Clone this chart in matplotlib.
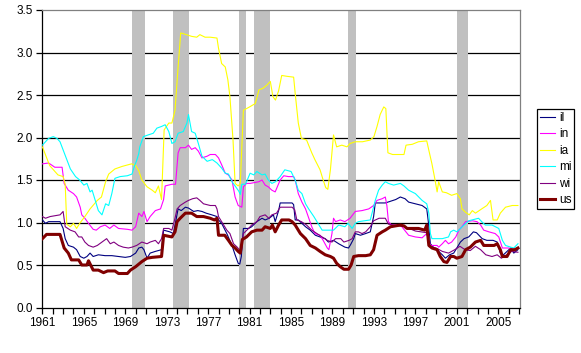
import numpy as np
import matplotlib
matplotlib.use("Agg")
import matplotlib.pyplot as plt

plt.rcParams['font.family'] = ['Liberation Sans', 'DejaVu Sans']

# (year, value) pairs
il = [(1961.0,1.03),(1961.3,0.99),(1961.6,1.01),(1962.7,1.01),(1963.0,0.93),(1963.2,0.81),(1963.5,0.73),
      (1964.0,0.71),(1964.3,0.68),(1964.65,0.60),(1965.0,0.58),(1965.3,0.60),(1965.6,0.64),(1965.9,0.60),
      (1966.4,0.62),(1967.05,0.61),(1967.7,0.61),(1968.35,0.60),(1969.0,0.59),(1969.5,0.60),(1970.0,0.64),
      (1970.3,0.70),(1970.6,0.71),(1970.8,0.68),(1971.1,0.58),(1971.4,0.64),(1971.9,0.66),(1972.5,0.68),
      (1972.7,0.91),(1973.3,0.89),(1973.65,0.87),(1973.8,0.97),(1974.1,1.16),(1974.4,1.14),(1974.8,1.18),
      (1975.1,1.17),(1975.6,1.13),(1976.0,1.14),(1976.4,1.13),(1976.8,1.11),(1977.35,1.09),(1977.85,1.07),
      (1978.0,1.03),(1978.3,0.99),(1978.8,0.87),(1979.3,0.73),(1979.6,0.62),(1979.9,0.52),(1980.05,0.51),
      (1980.2,0.60),(1980.4,0.93),(1980.9,0.93),(1981.2,0.95),(1981.7,1.01),(1982.2,1.05),(1982.5,1.03),
      (1982.9,1.05),(1983.3,1.09),(1983.47,1.01),(1983.8,1.14),(1983.95,1.23),(1985.1,1.23),(1985.25,1.21),
      (1985.4,1.03),(1985.7,1.03),(1986.05,0.99),(1986.4,0.95),(1986.85,0.91),(1987.35,0.85),(1987.8,0.83),
      (1988.3,0.81),(1988.6,0.77),(1989.1,0.79),(1989.6,0.75),(1989.9,0.73),(1990.2,0.71),(1990.55,0.70),
      (1990.75,0.74),(1991.05,0.81),(1991.2,0.87),(1991.7,0.85),(1992.2,0.87),(1992.65,0.89),(1992.97,1.07),
      (1993.13,1.23),(1994.1,1.23),(1994.6,1.25),(1995.1,1.27),(1995.55,1.30),(1996.0,1.28),(1996.35,1.24),
      (1997.0,1.22),(1997.65,1.20),(1998.1,1.16),(1998.25,1.01),(1998.45,0.75),(1998.8,0.70),(1999.25,0.66),
      (1999.6,0.62),(1999.9,0.58),(2000.3,0.62),(2000.7,0.64),(2001.0,0.70),(2001.35,0.77),(2001.7,0.81),
      (2002.15,0.83),(2002.6,0.89),(2002.9,0.88),(2003.45,0.81),(2003.9,0.79),(2004.5,0.79),(2004.9,0.77),
      (2005.2,0.64),(2005.5,0.62),(2005.85,0.66),(2006.2,0.70),(2006.5,0.64),(2006.9,0.68)]

in_ = [(1961.0,1.69),(1961.6,1.70),(1962.2,1.65),(1962.9,1.65),(1963.1,1.46),(1963.5,1.38),(1964.0,1.34),
       (1964.3,1.30),(1964.65,1.18),(1964.8,1.09),(1965.1,1.05),(1965.45,0.99),(1965.9,0.92),(1966.2,0.91),
       (1966.6,0.95),(1967.05,0.97),(1967.5,0.93),(1967.9,0.97),(1968.35,0.93),(1969.2,0.92),(1969.65,0.91),
       (1970.0,0.95),(1970.3,1.11),(1970.6,1.07),(1970.8,1.13),(1971.1,1.01),(1971.4,1.07),(1971.9,1.14),
       (1972.4,1.16),(1972.7,1.27),(1972.85,1.43),(1973.5,1.45),(1973.85,1.45),(1974.1,1.82),(1974.3,1.88),
       (1974.8,1.88),(1975.1,1.91),(1975.4,1.86),(1975.75,1.88),(1976.05,1.84),(1976.4,1.76),(1976.9,1.78),
       (1977.2,1.80),(1977.7,1.80),(1978.0,1.76),(1978.3,1.68),(1978.65,1.58),(1978.95,1.56),(1979.3,1.50),
       (1979.6,1.30),(1979.9,1.20),(1980.25,1.18),(1980.4,1.42),(1980.7,1.46),(1981.05,1.46),(1981.9,1.48),
       (1982.2,1.50),(1982.5,1.44),(1982.8,1.42),(1983.15,1.38),(1983.47,1.36),(1983.95,1.50),(1984.3,1.55),
       (1984.75,1.54),(1985.25,1.54),(1985.4,1.50),(1985.7,1.34),(1986.05,1.24),(1986.4,1.16),(1987.0,0.95),
       (1987.3,0.87),(1987.8,0.85),(1988.1,0.79),(1988.5,0.70),(1988.65,0.68),(1988.95,0.87),(1989.1,1.05),
       (1989.3,1.01),(1989.75,1.03),(1990.2,1.01),(1990.7,1.05),(1991.2,1.13),(1991.85,1.14),(1992.5,1.16),
       (1992.97,1.20),(1993.3,1.26),(1993.8,1.28),(1994.1,1.30),(1994.25,1.20),(1994.4,1.01),(1994.7,0.97),
       (1995.4,0.97),(1995.7,0.95),(1996.35,0.85),(1997.0,0.83),(1997.65,0.82),(1998.1,0.87),(1998.3,0.79),
       (1998.45,0.73),(1999.1,0.73),(1999.25,0.71),(1999.6,0.75),(1999.9,0.79),(2000.2,0.75),(2000.5,0.77),
       (2000.9,0.83),(2001.2,0.91),(2001.5,0.95),(2001.85,1.01),(2002.5,1.02),(2002.95,1.01),(2003.3,0.97),
       (2003.6,0.91),(2004.1,0.89),(2004.7,0.87),(2005.05,0.83),(2005.4,0.70),(2006.0,0.70),(2006.5,0.68),
       (2006.9,0.70)]

ia = [(1961.0,1.89),(1961.7,1.67),(1962.5,1.56),(1963.0,1.54),(1963.2,1.45),(1963.35,0.98),(1963.7,0.95),
      (1964.0,0.99),(1964.3,0.93),(1964.6,0.99),(1965.1,1.07),(1965.6,1.16),(1966.3,1.26),(1966.7,1.30),
      (1967.1,1.48),(1967.4,1.57),(1968.0,1.63),(1968.7,1.66),(1969.3,1.68),(1969.6,1.69),(1970.0,1.67),
      (1970.3,1.61),(1970.6,1.50),(1971.1,1.42),(1971.6,1.38),(1971.9,1.35),(1972.2,1.43),(1972.5,1.27),
      (1972.75,2.09),(1973.2,2.17),(1973.5,2.17),(1973.8,2.32),(1974.1,2.83),(1974.35,3.23),(1974.9,3.21),
      (1975.4,3.19),(1975.9,3.18),(1976.2,3.21),(1976.7,3.18),(1977.2,3.18),(1977.85,3.17),(1978.0,3.05),
      (1978.3,2.87),(1978.65,2.83),(1978.9,2.68),(1979.1,2.48),(1979.4,1.97),(1979.6,1.46),(1979.9,1.43),
      (1980.1,1.46),(1980.4,2.32),(1981.0,2.36),(1981.55,2.40),(1981.9,2.56),(1982.3,2.58),(1982.7,2.62),
      (1983.0,2.66),(1983.25,2.48),(1983.5,2.44),(1983.8,2.55),(1984.1,2.73),(1984.6,2.72),(1985.25,2.71),
      (1985.4,2.52),(1985.7,2.17),(1986.0,1.99),(1986.5,1.97),(1987.0,1.82),(1987.3,1.74),(1987.8,1.62),
      (1988.1,1.50),(1988.35,1.41),(1988.55,1.39),(1988.8,1.62),(1989.1,2.03),(1989.4,1.89),(1989.9,1.91),
      (1990.4,1.89),(1990.7,1.93),(1991.2,1.95),(1991.9,1.95),(1992.65,1.97),(1993.0,2.01),(1993.3,2.13),
      (1993.6,2.27),(1993.95,2.36),(1994.15,2.34),(1994.35,1.82),(1994.8,1.80),(1995.9,1.80),(1996.1,1.91),
      (1996.7,1.92),(1997.3,1.95),(1998.1,1.96),(1998.3,1.85),(1998.6,1.69),(1998.9,1.50),(1999.1,1.36),
      (1999.25,1.48),(1999.6,1.36),(2000.0,1.35),(2000.5,1.32),(2001.0,1.34),(2001.35,1.28),(2001.5,1.16),
      (2001.85,1.12),(2002.2,1.09),(2002.5,1.14),(2002.8,1.11),(2003.4,1.16),(2003.9,1.20),(2004.25,1.26),
      (2004.5,1.03),(2004.9,1.03),(2005.2,1.11),(2005.7,1.18),(2006.35,1.20),(2006.9,1.20)]

mi = [(1961.0,1.91),(1961.6,1.99),(1962.05,2.01),(1962.4,1.99),(1962.7,1.95),(1963.2,1.79),(1963.7,1.63),
      (1964.2,1.54),(1964.6,1.50),(1965.0,1.44),(1965.3,1.46),(1965.6,1.36),(1965.8,1.38),(1966.1,1.26),
      (1966.4,1.14),(1966.75,1.09),(1967.1,1.22),(1967.4,1.20),(1967.7,1.34),(1968.0,1.52),(1968.5,1.54),
      (1969.2,1.55),(1969.65,1.57),(1969.9,1.67),(1970.1,1.73),(1970.3,1.81),(1970.4,1.89),(1970.75,2.01),
      (1971.2,2.03),(1971.7,2.05),(1972.05,2.11),(1972.5,2.13),(1972.85,2.15),(1973.2,2.07),(1973.5,1.93),
      (1973.8,1.95),(1974.1,2.05),(1974.6,2.07),(1974.95,2.17),(1975.1,2.27),(1975.4,2.07),(1975.75,2.05),
      (1976.05,1.93),(1976.4,1.78),(1976.9,1.72),(1977.4,1.74),(1977.85,1.70),(1978.3,1.64),(1978.65,1.58),
      (1978.96,1.57),(1979.3,1.48),(1979.6,1.43),(1979.95,1.37),(1980.1,1.33),(1980.25,1.45),(1980.6,1.45),
      (1981.05,1.58),(1981.4,1.56),(1981.7,1.60),(1982.2,1.56),(1982.5,1.57),(1982.8,1.50),(1983.15,1.46),
      (1983.5,1.48),(1983.95,1.54),(1984.4,1.62),(1985.0,1.60),(1985.4,1.50),(1985.7,1.38),(1986.05,1.34),
      (1986.4,1.22),(1986.7,1.16),(1987.2,1.07),(1987.5,1.01),(1988.0,0.91),(1989.1,0.91),(1989.6,0.97),
      (1990.2,0.95),(1990.5,0.99),(1990.9,0.93),(1991.2,0.99),(1991.5,1.01),(1992.65,1.03),(1993.13,1.26),
      (1993.45,1.38),(1993.8,1.44),(1994.1,1.48),(1994.4,1.46),(1994.9,1.44),(1995.55,1.46),(1995.9,1.43),
      (1996.35,1.38),(1997.0,1.34),(1997.65,1.26),(1998.1,1.22),(1998.3,1.11),(1998.45,0.87),(1998.6,0.81),
      (1999.6,0.81),(2000.2,0.83),(2000.4,0.89),(2000.7,0.91),(2001.0,0.89),(2001.35,0.93),(2001.7,0.97),
      (2002.15,1.02),(2003.1,1.05),(2003.4,1.01),(2003.75,0.97),(2004.4,0.97),(2005.05,0.93),(2005.4,0.79),
      (2005.7,0.73),(2006.2,0.71),(2006.5,0.70),(2006.9,0.75)]

wi = [(1961.0,1.07),(1961.3,1.05),(1961.75,1.07),(1962.7,1.09),(1963.0,1.13),(1963.2,0.95),(1963.7,0.91),
      (1964.15,0.89),(1964.5,0.83),(1964.8,0.83),(1965.1,0.77),(1965.45,0.73),(1965.9,0.71),(1966.3,0.73),
      (1966.75,0.77),(1967.2,0.81),(1967.55,0.75),(1967.9,0.77),(1968.35,0.73),(1968.8,0.71),(1969.3,0.70),
      (1969.65,0.71),(1970.1,0.73),(1970.6,0.77),(1971.1,0.75),(1971.4,0.77),(1971.9,0.79),(1972.2,0.75),
      (1972.5,0.81),(1972.7,0.93),(1973.2,0.93),(1973.5,0.91),(1973.8,1.05),(1974.0,1.16),(1974.3,1.20),
      (1974.8,1.24),(1975.1,1.26),(1975.5,1.28),(1975.9,1.29),(1976.2,1.26),(1976.55,1.22),(1977.2,1.20),
      (1977.7,1.20),(1977.85,1.16),(1978.0,1.07),(1978.3,1.01),(1978.8,0.91),(1979.1,0.87),(1979.45,0.75),
      (1979.8,0.71),(1980.0,0.68),(1980.2,0.66),(1980.4,0.87),(1980.9,0.93),(1981.2,0.97),(1981.7,1.01),
      (1982.0,1.07),(1982.5,1.09),(1982.85,1.05),(1983.15,1.09),(1983.6,1.11),(1983.95,1.18),(1985.1,1.18),
      (1985.35,1.15),(1985.56,1.03),(1986.0,1.01),(1986.5,0.97),(1987.0,0.91),(1987.5,0.87),(1988.0,0.83),
      (1988.5,0.79),(1988.95,0.77),(1989.3,0.81),(1989.8,0.81),(1990.1,0.77),(1990.6,0.79),(1990.9,0.81),
      (1991.2,0.89),(1991.5,0.89),(1991.85,0.87),(1992.2,0.89),(1992.65,0.95),(1992.97,1.02),(1993.5,1.05),
      (1994.1,1.05),(1994.4,0.98),(1995.0,0.97),(1996.0,0.95),(1997.0,0.90),(1998.1,0.88),(1998.4,0.72),
      (1999.0,0.70),(1999.6,0.66),(2000.2,0.64),(2000.8,0.68),(2001.3,0.72),(2001.8,0.68),(2002.3,0.67),
      (2002.8,0.72),(2003.3,0.68),(2003.8,0.62),(2004.4,0.60),(2004.9,0.62),(2005.3,0.58),(2005.8,0.62),
      (2006.3,0.66),(2006.9,0.65)]

us = [(1961.0,0.81),(1961.4,0.86),(1962.7,0.86),(1963.1,0.70),(1963.5,0.64),(1963.8,0.56),(1964.5,0.56),
      (1964.8,0.50),(1965.3,0.50),(1965.45,0.55),(1965.9,0.44),(1966.4,0.44),(1966.9,0.41),(1967.3,0.43),
      (1968.0,0.43),(1968.35,0.40),(1969.2,0.40),(1969.5,0.44),(1970.0,0.48),(1970.6,0.54),(1971.1,0.58),
      (1971.6,0.59),(1972.5,0.60),(1972.7,0.85),(1973.5,0.83),(1973.8,0.89),(1974.0,1.01),(1974.3,1.05),
      (1974.8,1.11),(1975.4,1.11),(1975.9,1.07),(1976.55,1.07),(1977.2,1.05),(1977.6,1.03),(1977.85,1.05),
      (1978.0,0.85),(1978.6,0.85),(1978.96,0.79),(1979.3,0.73),(1979.6,0.70),(1979.9,0.66),(1980.1,0.64),
      (1980.3,0.80),(1980.7,0.83),(1981.2,0.89),(1981.7,0.91),(1982.2,0.91),(1982.5,0.95),(1983.0,0.93),
      (1983.2,0.97),(1983.47,0.89),(1983.8,0.97),(1984.1,1.03),(1984.8,1.03),(1985.1,1.01),(1985.4,0.97),
      (1985.9,0.87),(1986.4,0.81),(1986.85,0.73),(1987.35,0.70),(1987.8,0.66),(1988.3,0.62),(1988.8,0.60),
      (1989.1,0.58),(1989.4,0.52),(1989.75,0.48),(1990.1,0.45),(1990.55,0.45),(1990.8,0.50),(1991.05,0.60),
      (1991.5,0.61),(1992.2,0.61),(1992.65,0.62),(1992.97,0.68),(1993.3,0.85),(1993.8,0.89),(1994.1,0.91),
      (1994.6,0.95),(1995.55,0.97),(1995.9,0.96),(1996.2,0.93),(1997.3,0.93),(1997.9,0.91),(1998.1,0.97),
      (1998.3,0.73),(1998.6,0.70),(1999.1,0.68),(1999.4,0.60),(1999.75,0.54),(2000.05,0.53),(2000.4,0.60),
      (2000.7,0.60),(2001.0,0.58),(2001.5,0.60),(2001.85,0.68),(2002.3,0.71),(2002.8,0.77),(2003.3,0.79),
      (2003.6,0.73),(2004.6,0.73),(2004.9,0.75),(2005.2,0.68),(2005.4,0.60),(2005.85,0.60),(2006.2,0.68),
      (2006.6,0.68),(2006.9,0.70)]

# recession bands (start, end)
recessions = [(1969.63, 1970.91), (1973.62, 1975.13), (1980.0, 1980.67),
              (1981.45, 1983.0), (1990.5, 1991.27), (2001.06, 2002.1)]

series = [('il', il, '#000080', 0.8), ('in', in_, '#FF00FF', 0.8), ('ia', ia, '#FFFF00', 0.8),
          ('mi', mi, '#00FFFF', 0.8), ('wi', wi, '#800080', 0.8), ('us', us, '#800000', 2.2)]

W, H = 581, 353
fig = plt.figure(figsize=(W / 100, H / 100), dpi=100)
ax = fig.add_axes([42.4 / W, 1 - 307.5 / H, (520 - 42.4) / W, (307.5 - 10) / H])

for y in np.arange(0.5, 3.5, 0.5):
    ax.axhline(y, color='black', lw=0.9, zorder=1)

for a, b in recessions:
    ax.axvspan(a, b, color='#C0C0C0', lw=0, zorder=2)

for name, pts, col, lw in series:
    t, v = zip(*pts)
    ax.plot(t, v, color=col, lw=lw, label=name, zorder=3)

ax.set_xlim(1961, 2007.1)
ax.set_ylim(0, 3.5)
ax.set_xticks(np.arange(1961, 2008, 1))
ax.set_xticklabels([str(y) if (y - 1961) % 4 == 0 else '' for y in range(1961, 2008)])
ax.set_yticks(np.arange(0, 3.51, 0.5))
ax.set_yticklabels(['%.1f' % y for y in np.arange(0, 3.51, 0.5)])
ax.tick_params(direction='out', length=4, width=0.9, color='black', labelsize=8.5, pad=3)

ax.spines['left'].set_color('black')
ax.spines['bottom'].set_color('black')
ax.spines['top'].set_color('#808080')
ax.spines['right'].set_color('#808080')
for s in ax.spines.values():
    s.set_linewidth(0.9)

leg = fig.legend(loc='upper left', bbox_to_anchor=(537 / W, 1 - 109 / H), fontsize=8.5,
                 frameon=True, fancybox=False, edgecolor='black', framealpha=1,
                 handlelength=1.3, handletextpad=0.3, labelspacing=0.38, borderpad=0.25,
                 borderaxespad=0)
leg.get_frame().set_linewidth(0.9)

fig.savefig('out.png', dpi=100)
